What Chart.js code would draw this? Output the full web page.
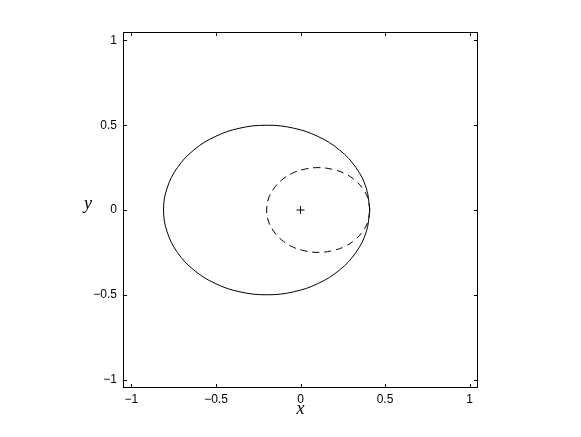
<!DOCTYPE html>
<html>
<head>
<meta charset="utf-8">
<script src="https://cdn.jsdelivr.net/npm/chart.js@4.4.1/dist/chart.umd.min.js"></script>
<style>
  html, body { margin: 0; padding: 0; background: #fff; }
  #wrap { width: 581px; height: 437px; }
</style>
</head>
<body>
<div id="wrap"><canvas id="chart"></canvas></div>
<script>
// values
const outerX = [0.410, 0.389, 0.328, 0.231, 0.105, -0.042, -0.200, -0.358, -0.505, -0.631, -0.728, -0.789, -0.810,
                -0.789, -0.728, -0.631, -0.505, -0.358, -0.200, -0.042, 0.105, 0.231, 0.328, 0.389, 0.410];
const outerY = [0.000, 0.129, 0.250, 0.354, 0.433, 0.483, 0.500, 0.483, 0.433, 0.354, 0.250, 0.129, 0.000,
                -0.129, -0.250, -0.354, -0.433, -0.483, -0.500, -0.483, -0.433, -0.354, -0.250, -0.129, 0.000];
const innerX = [0.410, 0.400, 0.369, 0.321, 0.258, 0.184, 0.105, 0.026, -0.048, -0.111, -0.159, -0.190, -0.200,
                -0.190, -0.159, -0.111, -0.048, 0.026, 0.105, 0.184, 0.258, 0.321, 0.369, 0.400, 0.410];
const innerY = [0.000, 0.065, 0.125, 0.177, 0.217, 0.241, 0.250, 0.241, 0.217, 0.177, 0.125, 0.065, 0.000,
                -0.065, -0.125, -0.177, -0.217, -0.241, -0.250, -0.241, -0.217, -0.177, -0.125, -0.065, 0.000];
const centreX = [0];
const centreY = [0];
const tickValues = [-1, -0.5, 0, 0.5, 1];
const axisMin = -1.05;
const axisMax = 1.05;

const pts = (xs, ys) => xs.map((x, i) => ({ x: x, y: ys[i] }));
const fmt = v => String(v).replace('-', '\u2212');

// matlab style box: frame on all sides, ticks pointing inward
const boxPlugin = {
  id: 'box',
  afterDraw(chart) {
    const { ctx, chartArea: a, scales } = chart;
    ctx.save();
    ctx.strokeStyle = '#000';
    ctx.lineWidth = 1;
    ctx.strokeRect(a.left + 0.5, a.top + 0.5, a.right - a.left - 1, a.bottom - a.top - 1);
    const len = 4;
    ctx.beginPath();
    scales.x.ticks.forEach(t => {
      const px = Math.round(scales.x.getPixelForValue(t.value)) + 0.5;
      ctx.moveTo(px, a.bottom); ctx.lineTo(px, a.bottom - len);
      ctx.moveTo(px, a.top); ctx.lineTo(px, a.top + len);
    });
    scales.y.ticks.forEach(t => {
      const py = Math.round(scales.y.getPixelForValue(t.value)) + 0.5;
      ctx.moveTo(a.left, py); ctx.lineTo(a.left + len, py);
      ctx.moveTo(a.right, py); ctx.lineTo(a.right - len, py);
    });
    ctx.stroke();
    // axis names
    ctx.fillStyle = '#000';
    ctx.font = 'italic 18px "Liberation Serif", "DejaVu Serif", serif';
    ctx.textAlign = 'center';
    ctx.textBaseline = 'middle';
    ctx.fillText('x', (a.left + a.right) / 2, 409);
    ctx.fillText('y', 88, (a.top + a.bottom) / 2 - 6);
    ctx.restore();
  }
};

const tickSetup = scale => { scale.ticks = tickValues.map(v => ({ value: v })); };

new Chart(document.getElementById('chart'), {
  type: 'scatter',
  data: {
    datasets: [
      {
        data: pts(innerX, innerY),
        showLine: true,
        borderColor: '#000',
        borderWidth: 1,
        borderDash: [7, 5],
        pointRadius: 0,
        tension: 0.4
      },
      {
        data: pts(outerX, outerY),
        showLine: true,
        borderColor: '#000',
        borderWidth: 1,
        pointRadius: 0,
        tension: 0.4
      },
      {
        data: pts(centreX, centreY),
        showLine: false,
        pointStyle: 'cross',
        pointRadius: 4,
        borderColor: '#000',
        borderWidth: 1
      }
    ]
  },
  options: {
    responsive: true,
    maintainAspectRatio: false,
    animation: false,
    layout: { padding: { left: 0, right: 103, top: 32, bottom: 0 } },
    plugins: {
      legend: { display: false },
      tooltip: { enabled: false }
    },
    scales: {
      x: {
        type: 'linear',
        min: axisMin,
        max: axisMax,
        afterBuildTicks: tickSetup,
        afterFit: s => { s.height = 49; },
        grid: { drawOnChartArea: false, drawTicks: false },
        border: { display: false },
        ticks: {
          color: '#000',
          padding: 4,
          maxRotation: 0,
          font: { family: '"Liberation Sans", Arial, sans-serif', size: 12 },
          callback: v => fmt(v)
        }
      },
      y: {
        type: 'linear',
        min: axisMin,
        max: axisMax,
        afterBuildTicks: tickSetup,
        afterFit: s => { s.width = 123; },
        grid: { drawOnChartArea: false, drawTicks: false },
        border: { display: false },
        ticks: {
          color: '#000',
          padding: 6,
          font: { family: '"Liberation Sans", Arial, sans-serif', size: 12 },
          callback: v => fmt(v)
        }
      }
    }
  },
  plugins: [boxPlugin]
});
</script>
</body>
</html>
